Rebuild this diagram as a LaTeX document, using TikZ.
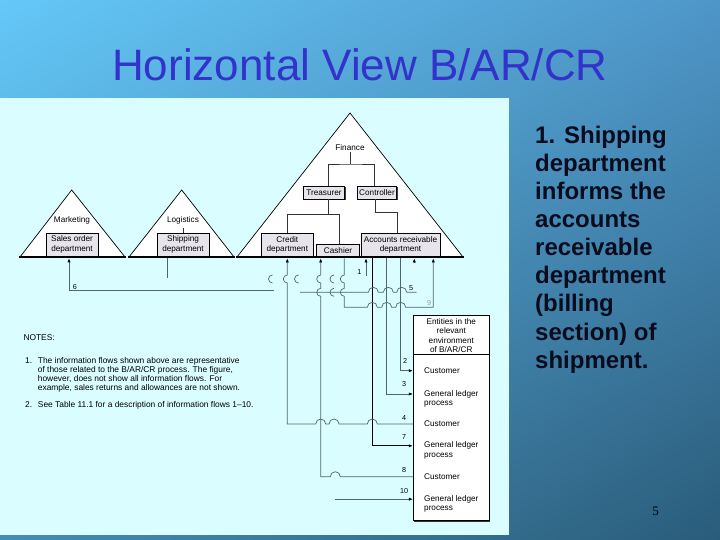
\documentclass[tikz,border=0pt]{standalone}
\usepackage{fontspec}
\setmainfont{Liberation Sans}
\newfontfamily\pagefont{Liberation Serif}
\usepackage{tikz}
\usetikzlibrary{positioning,arrows.meta,calc,shadows,shadings}
\definecolor{slidetl}{RGB}{100,200,248}
\definecolor{slidetr}{RGB}{78,150,200}
\definecolor{slidebl}{RGB}{70,140,180}
\definecolor{slidebr}{RGB}{42,92,122}
\definecolor{panelcyan}{RGB}{218,254,255}
\definecolor{titleblue}{RGB}{51,51,204}
\definecolor{pointtext}{RGB}{10,12,30}
\definecolor{deptfill}{RGB}{232,228,236}
\definecolor{flowline}{RGB}{80,100,115}

\begin{document}
\begin{tikzpicture}[
		x=1pt, y=-1pt,
		font=\fontsize{8.2}{9.6}\selectfont,
		dept/.style={draw, fill=deptfill, align=center, inner sep=0pt, line width=0.6pt,
				drop shadow={shadow xshift=0.8pt, shadow yshift=-0.8pt, opacity=1, fill=black!75}},
		tri/.style={draw, fill=white, line width=0.7pt},
		baseline/.style={line width=2.4pt},
		org/.style={line width=0.6pt, draw=black!80},
		flow/.style={draw=flowline, line width=0.7pt},
		arr/.style={-{Latex[length=4pt,width=3.2pt,black]}},
		num/.style={font=\fontsize{7.2}{8}\selectfont, inner sep=0pt},
		row/.style={anchor=west, align=left, inner sep=0pt, font=\fontsize{8.2}{9.2}\selectfont},
		note/.style={font=\fontsize{8.4}{9.2}\selectfont, inner sep=0pt}
		]
		\useasboundingbox (0,0) rectangle (720,540);
		\shade[upper left=slidetl, upper right=slidetr, lower left=slidebl, lower right=slidebr]
		(0,0) rectangle (720,540);
		\fill[panelcyan] (0,98) rectangle (509,535);

		\node[font=\fontsize{44}{44}\selectfont, text=titleblue, anchor=base] (title) at (360,81)
		{Horizontal View B/AR/CR};
		\node[anchor=north west, align=left, inner sep=0pt, text=pointtext,
			font=\bfseries\fontsize{24}{28.1}\selectfont] (point) at (535,125.8)
		{1. Shipping\\department\\informs the\\accounts\\receivable\\department\\(billing\\section) of\\shipment.};
		\node[font=\pagefont\fontsize{13}{13}\selectfont, anchor=base] (pgnum) at (655.7,515) {5};

		% the three functions
		\filldraw[tri] (20,257) -- (71.7,190) -- (125,257) -- cycle;
		\filldraw[tri] (129,257) -- (181.7,190) -- (234,257) -- cycle;
		\filldraw[tri] (237,257) -- (350,113) -- (463,257) -- cycle;
		\draw[baseline] (19,257) -- (126,257);
		\draw[baseline] (128,257) -- (235,257);
		\draw[baseline] (236,257) -- (464,257);

		\node (mkt) at (72,220.7) {Marketing};
		\node (logi) at (183,220.7) {Logistics};
		\node[inner sep=1pt] (fin) at (350,147.7) {Finance};
		\node[dept, minimum width=52pt, minimum height=23pt] (sales) at (72,244.5)
		{Sales order\\department};
		\node[dept, minimum width=52pt, minimum height=23pt] (ship) at (183,244.5)
		{Shipping\\department};
		\node[dept, minimum width=41.4pt, minimum height=12.3pt] (treas) at (324,192.8) {Treasurer};
		\node[dept, minimum width=39.4pt, minimum height=12.3pt] (ctrl) at (377,192.8) {Controller};
		\node[dept, minimum width=51.3pt, minimum height=22.7pt] (credit) at (287.3,244.7)
		{Credit\\department};
		\node[dept, minimum width=42.6pt, minimum height=11.7pt] (cashier) at (338,250.2) {Cashier};
		\node[dept, minimum width=79pt, minimum height=22.7pt] (ar) at (400.5,244.7)
		{Accounts receivable\\department};

		\coordinate (fsplit) at (350,164);
		\coordinate (tsplit) at (328.7,214.3);
		\draw[org] (logi.south) -- (ship.north);
		\draw[org] (fin.south) -- (fsplit);
		\draw[org] ([xshift=4.7pt]treas.north) |- (fsplit) -| ([xshift=-2.7pt]ctrl.north);
		\draw[org] ([xshift=4.7pt]treas.south) -- (tsplit);
		\draw[org] (credit.north) |- (tsplit) -| ([xshift=1.3pt]cashier.north);
		\draw[org] ([xshift=-1.7pt]ctrl.south) -- ++(0,13.5) -| ([xshift=-3.2pt]ar.north);

		% entities in the environment
		\node[draw, fill=white, line width=0.8pt, inner sep=0pt, minimum width=76pt,
			minimum height=205.7pt,
			drop shadow={shadow xshift=1pt, shadow yshift=-1pt, opacity=1, fill=black!80}]
		(ent) at (451.3,417.85) {};
		\draw[line width=0.6pt] ([yshift=-40pt]ent.north west) -- ([yshift=-40pt]ent.north east);
		\node[below=4pt of ent.north, align=center, inner sep=0pt,
			font=\fontsize{8.2}{9.2}\selectfont] (enthead)
		{Entities in the\\relevant\\environment\\of B/AR/CR};
		\node[row] (cust1) at (424,370.7) {Customer};
		\node[row] (gl1) at (424,398.5) {General ledger\\process};
		\node[row] (cust2) at (424,424) {Customer};
		\node[row] (gl2) at (424,450.3) {General ledger\\process};
		\node[row] (cust3) at (424,476.7) {Customer};
		\node[row] (gl3) at (424,503.7) {General ledger\\process};

		% information flows
		\coordinate (f6) at (274,290.5);
		\coordinate (f1b) at (366,276);
		\coordinate (f5a) at (300,292.3);
		\coordinate (f10) at (335,499.2);
		\draw[flow, arr] (f6) -| ([xshift=-3pt,yshift=-2pt]sales.south);
		\draw[flow] ([xshift=-16pt,yshift=-2pt]ship.south) -- ++(0,19.5) coordinate (f1a);
		\draw[flow, arr] (f1b) -- ([xshift=-34.5pt,yshift=-2pt]ar.south);
		\draw[flow, arr] ([yshift=-2pt]ar.south) |- (cust1 -| ent.west);
		\draw[flow, arr] ([xshift=-13.8pt,yshift=-2pt]ar.south) |- ($(gl1 -| ent.west)+(0,-4.5)$);
		\draw[flow, arr, draw=black, line width=1pt] ([xshift=-28.2pt,yshift=-2pt]ar.south)
		|- ($(gl2 -| ent.west)+(0,-4.5)$);
		\draw[flow, arr] (f10) -- ($(gl3 -| ent.west)+(0,-4.5)$);
		\draw[flow] (f5a) -- (368.3,292.3) arc[start angle=180,end angle=0,radius=5pt]
		-- (383.3,292.3) arc[start angle=180,end angle=0,radius=5pt]
		-- (396.7,292.3) arc[start angle=180,end angle=0,radius=5pt]
		-- (416.7,292.3) coordinate (f5b);
		\draw[flow, arr] ([xshift=13.8pt,yshift=-6pt]ar.south) -- ([xshift=13.8pt,yshift=-2pt]ar.south);
		\draw[flow, arr] ([xshift=6.3pt,yshift=-2pt]cashier.south)
		-- (344.3,275) arc[start angle=90,end angle=270,radius=4pt]
		-- (344.3,288.3) arc[start angle=90,end angle=270,radius=4pt]
		-- (344.3,307.3) -- (367.3,307.3) arc[start angle=180,end angle=0,radius=5pt]
		-- (381.7,307.3) arc[start angle=180,end angle=0,radius=5pt]
		-- (395.7,307.3) arc[start angle=180,end angle=0,radius=5pt]
		-- (433.3,307.3) -- ([xshift=32.8pt,yshift=-2pt]ar.south);
		\draw[flow, arr] (cust2 -| ent.west) -- (377.3,424) arc[start angle=0,end angle=180,radius=5pt]
		-- (339,424) arc[start angle=0,end angle=180,radius=5pt]
		-- (325.7,424) arc[start angle=0,end angle=180,radius=5pt]
		-- (287.3,424) -- (287.3,283) arc[start angle=270,end angle=90,radius=4pt]
		-- ([yshift=-2pt]credit.south);
		\draw[flow, arr] (cust3 -| ent.west) -- (340.3,476.7) arc[start angle=0,end angle=180,radius=5pt]
		-- (320.7,476.7) -- (320.7,296.3) arc[start angle=270,end angle=90,radius=4pt]
		-- (320.7,283) arc[start angle=270,end angle=90,radius=4pt]
		-- ([xshift=-17.3pt,yshift=-2pt]cashier.south);
		\draw[flow] (272.5,275) arc[start angle=90,end angle=270,radius=4pt];
		\draw[flow] (298.5,275) arc[start angle=90,end angle=270,radius=4pt];
		\draw[flow] (334,275) arc[start angle=90,end angle=270,radius=4pt];
		\draw[flow] (334,288.3) arc[start angle=90,end angle=270,radius=4pt];

		\node[num] (l6) at (75,287) {6};
		\node[num] (l1) at (359.3,271.7) {1};
		\node[num] (l5) at (411,288.3) {5};
		\node[num, text=black!40] (l9) at (429,303.5) {9};
		\node[num] (l2) at (405,361) {2};
		\node[num] (l3) at (404,384.3) {3};
		\node[num] (l4) at (404,418.3) {4};
		\node[num] (l7) at (404,436.7) {7};
		\node[num] (l8) at (404,470) {8};
		\node[num] (l10) at (404,491) {10};

		% notes
		\node[note, anchor=base west] (notes) at (23.3,340.3) {NOTES:};
		\node[note, anchor=base west] (n1) at (25,363.2) {1.};
		\node[note, anchor=north west, align=left] (t1) at (37.7,357)
		{The information flows shown above are representative\\
			of those related to the B/AR/CR process. The figure,\\
			however, does not show all information flows. For\\
			example, sales returns and allowances are not shown.};
		\node[note, anchor=base west] (n2) at (25,407.2) {2.};
		\node[note, anchor=base west] (t2) at (37.7,407.2)
		{See Table 11.1 for a description of information flows 1--10.};
	\end{tikzpicture}
\end{document}
